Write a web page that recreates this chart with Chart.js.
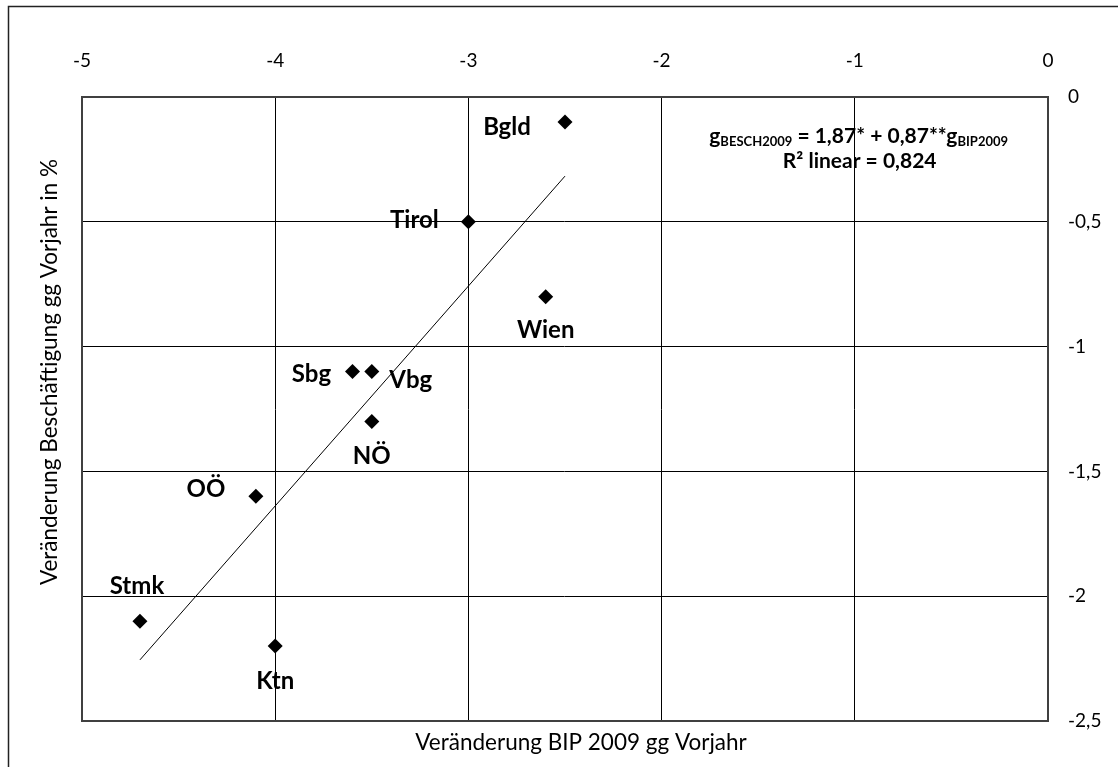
<!DOCTYPE html>
<html>
<head>
<meta charset="utf-8">
<script src="https://cdn.jsdelivr.net/npm/chart.js@4/dist/chart.umd.min.js"></script>
<style>
html,body{margin:0;padding:0;background:#fff;}
#wrap{position:relative;width:1118px;height:767px;}
</style>
</head>
<body>
<div id="wrap"><canvas id="c" width="1118" height="767"></canvas></div>
<script>
// ---- data ----
const regions = ["Bgld", "Tirol", "Wien", "Sbg", "Vbg", "NÖ", "OÖ", "Stmk", "Ktn"];
const bipChange = [-2.5, -3.0, -2.6, -3.6, -3.5, -3.5, -4.1, -4.7, -4.0];
const beschChange = [-0.1, -0.5, -0.8, -1.1, -1.1, -1.3, -1.6, -2.1, -2.2];
const trendX = [-4.7, -2.5];
const trendY = [-2.255, -0.317];
const xTicks = [-5, -4, -3, -2, -1, 0];
const yTicks = [0, -0.5, -1, -1.5, -2, -2.5];
const xTitle = "Veränderung BIP 2009 gg Vorjahr";
const yTitle = "Veränderung Beschäftigung gg Vorjahr in %";
const eqLine1 = [["g", false], ["BESCH2009", true], [" = 1,87* + 0,87**g", false], ["BIP2009", true]];
const eqLine2 = "R² linear = 0,824";

// ---- styling (not data) ----
const FONT = "Lato, 'Open Sans', sans-serif";
const labelOffsets = {
  "Bgld": [-58, 5], "Tirol": [-54, -2], "Wien": [0, 34], "Sbg": [-41, 3],
  "Vbg": [39, 9], "NÖ": [0, 35], "OÖ": [-50, -7], "Stmk": [-3, -35], "Ktn": [0, 35]
};

const fmt = v => String(v).replace('.', ',');

const framePlugin = {
  id: 'frame',
  beforeDraw(chart) {
    const ctx = chart.ctx;
    ctx.save();
    ctx.fillStyle = '#fff';
    ctx.fillRect(0, 0, chart.width, chart.height);
    ctx.strokeStyle = '#222';
    ctx.lineWidth = 1.5;
    ctx.beginPath();
    ctx.moveTo(8.5, chart.height);
    ctx.lineTo(8.5, 6.5);
    ctx.lineTo(chart.width, 6.5);
    ctx.stroke();
    ctx.restore();
  }
};

const titlePlugin = {
  id: 'axisTitles',
  afterDraw(chart) {
    const ctx = chart.ctx;
    const a = chart.chartArea;
    ctx.save();
    ctx.fillStyle = '#000';
    ctx.font = "22.5px " + FONT;
    ctx.textAlign = 'center';
    ctx.textBaseline = 'alphabetic';
    ctx.fillText(xTitle, (a.left + a.right) / 2 + 16, a.bottom + 29);
    ctx.translate(a.left - 25, (a.top + a.bottom) / 2 - 37);
    ctx.rotate(-Math.PI / 2);
    ctx.fillText(yTitle, 0, 0);
    ctx.restore();
  }
};

const labelPlugin = {
  id: 'pointLabels',
  afterDatasetsDraw(chart) {
    const ctx = chart.ctx;
    const meta = chart.getDatasetMeta(0);
    ctx.save();
    ctx.font = "bold 24px " + FONT;
    ctx.fillStyle = '#000';
    ctx.textAlign = 'center';
    ctx.textBaseline = 'middle';
    meta.data.forEach((el, i) => {
      const name = regions[i];
      const off = labelOffsets[name] || [0, 0];
      ctx.fillText(name, el.x + off[0], el.y + off[1]);
    });
    ctx.restore();
  }
};

const eqPlugin = {
  id: 'equation',
  afterDatasetsDraw(chart) {
    const ctx = chart.ctx;
    const xs = chart.scales.x, ys = chart.scales.y;
    const cx = xs.getPixelForValue(-0.98);
    const base1 = ys.getPixelForValue(-0.185);
    const base2 = ys.getPixelForValue(-0.283);
    const big = "bold 21px " + FONT, small = "bold 13px " + FONT;
    ctx.save();
    ctx.fillStyle = '#000';
    ctx.textBaseline = 'alphabetic';
    let total = 0;
    eqLine1.forEach(([t, sub]) => { ctx.font = sub ? small : big; total += ctx.measureText(t).width; });
    let x = cx - total / 2;
    ctx.textAlign = 'left';
    eqLine1.forEach(([t, sub]) => {
      ctx.font = sub ? small : big;
      ctx.fillText(t, x, base1 + (sub ? 3 : 0));
      x += ctx.measureText(t).width;
    });
    ctx.font = big;
    ctx.textAlign = 'center';
    ctx.fillText(eqLine2, cx + 1, base2);
    ctx.restore();
  }
};

new Chart(document.getElementById('c'), {
  type: 'scatter',
  data: {
    datasets: [
      {
        label: 'Bundesländer',
        data: bipChange.map((v, i) => ({ x: v, y: beschChange[i] })),
        pointStyle: 'rectRot',
        pointRadius: 7.5,
        pointHoverRadius: 7.5,
        backgroundColor: '#000',
        borderColor: '#000',
        borderWidth: 0
      },
      {
        label: 'Linear',
        type: 'line',
        data: trendX.map((v, i) => ({ x: v, y: trendY[i] })),
        borderColor: '#000',
        borderWidth: 1,
        pointRadius: 0,
        fill: false
      }
    ]
  },
  options: {
    responsive: false,
    animation: false,
    events: [],
    layout: { padding: 0 },
    plugins: { legend: { display: false }, tooltip: { enabled: false } },
    scales: {
      x: {
        type: 'linear', position: 'top', min: -5, max: 0,
        afterBuildTicks: s => { s.ticks = xTicks.map(v => ({ value: v })); },
        ticks: { color: '#000', font: { family: FONT, size: 19 }, padding: 25, callback: v => fmt(v) },
        grid: { color: '#000', lineWidth: 1, drawTicks: false },
        border: { display: true, color: '#404040', width: 2 },
        afterFit: s => { s.height = 97; }
      },
      x2: {
        type: 'linear', position: 'bottom', min: -5, max: 0,
        ticks: { display: false },
        grid: { display: false, drawTicks: false },
        border: { display: true, color: '#404040', width: 2 },
        afterFit: s => { s.height = 46; }
      },
      y: {
        type: 'linear', position: 'right', min: -2.5, max: 0,
        afterBuildTicks: s => { s.ticks = yTicks.map(v => ({ value: v })); },
        ticks: { color: '#000', font: { family: FONT, size: 19 }, padding: 20, callback: v => fmt(v) },
        grid: { color: '#000', lineWidth: 1, drawTicks: false },
        border: { display: true, color: '#404040', width: 2 },
        afterFit: s => { s.width = 70; }
      },
      y2: {
        type: 'linear', position: 'left', min: -2.5, max: 0,
        ticks: { display: false },
        grid: { display: false, drawTicks: false },
        border: { display: true, color: '#404040', width: 2 },
        afterFit: s => { s.width = 82; }
      }
    }
  },
  plugins: [framePlugin, labelPlugin, eqPlugin, titlePlugin]
});
</script>
</body>
</html>
